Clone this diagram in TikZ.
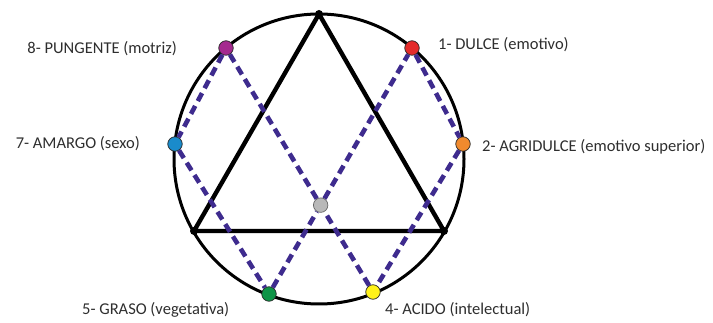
\documentclass[tikz,border=0pt]{standalone}
\usepackage{fontspec}
\setmainfont{Carlito}
\usepackage{xcolor}
\usepackage{tikz}
\definecolor{linkblue}{HTML}{3E2B8E}
\definecolor{c1}{HTML}{E42B2A}
\definecolor{c2}{HTML}{F08A2E}
\definecolor{c4}{HTML}{FFF21A}
\definecolor{c5}{HTML}{0E9447}
\definecolor{c7}{HTML}{1A8BCB}
\definecolor{c8}{HTML}{A52A8F}
\definecolor{c0}{HTML}{B8B8B8}
\definecolor{tagtext}{HTML}{2E2E2E}

\begin{document}
\begin{tikzpicture}[x=1pt,y=-1pt,
  dot/.style={circle,draw=black!85,line width=0.7pt,minimum size=14.5pt,inner sep=0pt},
  vertex/.style={circle,fill=black,minimum size=8pt,inner sep=0pt},
  tag/.style={inner sep=0pt,text=tagtext,font=\fontsize{16.5}{20}\selectfont},
  link/.style={draw=linkblue,line width=4.6pt,dash pattern=on 9pt off 5.5pt}]
\useasboundingbox (0,0) rectangle (713,323);
\draw[line width=3pt] (319,159) circle (145);
\node (t1) at (319,14) [vertex] {};
\node (t2) at (194,231) [vertex] {};
\node (t3) at (444,231) [vertex] {};
\draw[line width=4.4pt,line join=round] (t1.center) -- (t2.center) -- (t3.center) -- cycle;
\node (8) at (226,48) [dot,fill=c8] {};
\node (1) at (412,48) [dot,fill=c1] {};
\node (7) at (175,144) [dot,fill=c7] {};
\node (2) at (463,144) [dot,fill=c2] {};
\node (5) at (269,294) [dot,fill=c5] {};
\node (4) at (373,292) [dot,fill=c4] {};
\node (0) at (intersection of 8.center--4.center and 1.center--5.center) [dot,fill=c0,draw=black!60] {};
\draw[link] (8) -- (7);
\draw[link] (7) -- (5);
\draw[link] (5) -- (0) -- (1);
\draw[link] (1) -- (2);
\draw[link] (2) -- (4);
\draw[link] (4) -- (0) -- (8);
\node (l8) at (177,53.5) [tag,anchor=base east] {8- PUNGENTE (motriz)};
\node (l7) at (140,148.5) [tag,anchor=base east] {7- AMARGO (sexo)};
\node (l1) at (438,49.5) [tag,anchor=base west] {1- DULCE (emotivo)};
\node (l2) at (482,151.5) [tag,anchor=base west] {2- AGRIDULCE (emotivo superior)};
\node (l5) at (82,315) [tag,anchor=base west] {5- GRASO (vegetativa)};
\node (l4) at (385,315) [tag,anchor=base west] {4- ACIDO (intelectual)};
\end{tikzpicture}
\end{document}
